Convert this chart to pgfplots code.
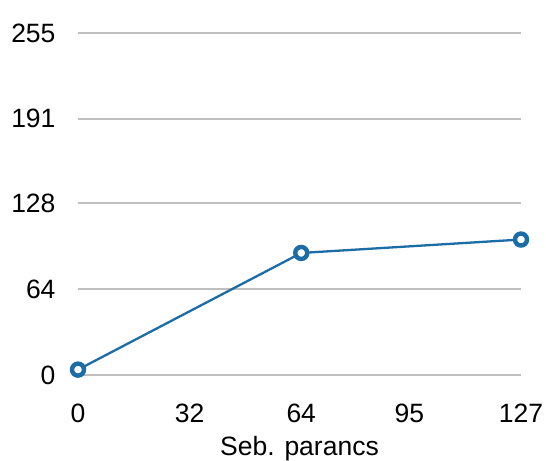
\documentclass[border=0pt]{standalone}
\usepackage{fontspec}
\setmainfont{Liberation Sans}
\usepackage{pgfplots}
\pgfplotsset{compat=1.18}
\definecolor{serieblue}{RGB}{28,108,166}
\definecolor{gridgray}{RGB}{191,191,191}
\begin{document}
\begin{tikzpicture}
\path[use as bounding box] (0,0) rectangle (546bp,461bp);
\begin{axis}[
  at={(78bp,86bp)}, anchor=south west,
  scale only axis, width=443bp, height=342bp,
  xmin=0, xmax=127, ymin=0, ymax=255,
  xtick={0,32,64,95,127}, ytick={0,64,128,191,255},
  axis line style={draw=none},
  major tick length=0pt,
  ymajorgrids, grid style={gridgray, line width=1.8bp},
  clip=false,
  /pgf/number format/assume math mode=true,
  tick label style={font=\fontsize{26.5bp}{31bp}\selectfont},
  yticklabel style={xshift=-19bp},
  xticklabel style={yshift=-25bp},
  xlabel={Seb. parancs},
  xlabel style={font=\fontsize{26.5bp}{31bp}\selectfont, yshift=-7bp},
]
\addplot[serieblue, line width=2.3bp, mark=*,
  mark options={fill=white, draw=serieblue, line width=4.4bp}, mark size=6bp]
  coordinates {(0,4) (64,91) (127,101)};
\end{axis}
\end{tikzpicture}
\end{document}
